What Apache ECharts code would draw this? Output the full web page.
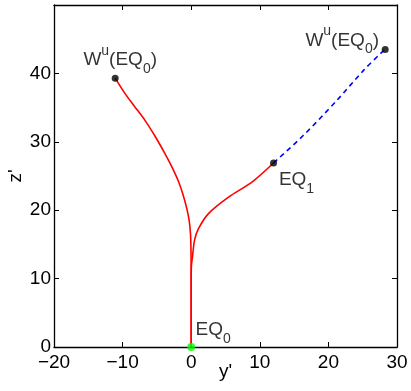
<!DOCTYPE html>
<html><head><meta charset="utf-8">
<script src="https://cdn.jsdelivr.net/npm/echarts@6/dist/echarts.min.js"></script>
<style>html,body{margin:0;padding:0;background:#fff}#c{width:411px;height:391px}</style>
</head><body><div id="c"></div>
<script>
const xTicks = [-20, -10, 0, 10, 20, 30];
const yTicks = [0, 10, 20, 30, 40];
const leftBranch = [[0,0],[0,10],[-0.03,14],[-0.1,16.5],[-0.3,18.5],[-0.63,20.2],[-1.2,22.3],[-1.85,24.2],[-2.8,26.3],[-3.79,28.2],[-5.2,30.7],[-6.71,33.1],[-8.2,35.1],[-9.62,37.0],[-11.08,39.3]];
const rightBranch = [[0,0],[0,10.5],[0.04,12],[0.19,13.2],[0.48,15.6],[1.06,17.3],[2.52,19.5],[5.44,21.9],[8.85,24.1],[12.0,26.9]];
const dashedBranch = [[12.0,26.9],[16.37,30.95],[21.24,36.06],[25.12,40.44],[27.8,43.1],[28.28,43.5]];
const blackDots = [[-11.08,39.3],[12.0,26.9],[28.28,43.5]];
const greenDot = [[0,0]];
const dotLabels = ['wu', 'eq1', 'wu'];

const chart = echarts.init(document.getElementById('c'));
const F = 'Liberation Sans, Arial, Helvetica, sans-serif';
const FS = 19;
const rich = {
  a: {fontSize: FS, fontFamily: F, color: '#000', lineHeight: 32, verticalAlign: 'middle'},
  sup: {fontSize: 14, fontFamily: F, color: '#000', lineHeight: 14, verticalAlign: 'top'},
  sub: {fontSize: 14, fontFamily: F, color: '#000', lineHeight: 14, verticalAlign: 'bottom'}
};
function labelText(k){
  if (k === 'wu') return '{a|W}{sup|u}{a|(EQ}{sub|0}{a|)}';
  if (k === 'eq1') return '{a|EQ}{sub|1}';
  return '{a|EQ}{sub|0}';
}
const minus = v => String(v).replace('-', '\u2212');
const axLine = {show: true, onZero: false, lineStyle: {color: '#000', width: 1.3}};
const tick = {show: true, inside: true, length: 5, lineStyle: {color: '#000'}};
const lbl = (dx, dy) => ({show: true, position: 'inside', align: 'center', verticalAlign: 'middle', offset: [dx, dy]});
chart.setOption({
  animation: false,
  grid: {left: 54, right: 14, top: 5, bottom: 44, outerBoundsMode: 'none', containLabel: false},
  xAxis: [
    {type: 'value', min: xTicks[0], max: xTicks[xTicks.length-1], interval: 10, name: "y'", nameLocation: 'middle', nameGap: 15, nameMoveOverlap: false,
     nameTextStyle: {fontSize: FS, fontFamily: F, color: '#000', verticalAlign: 'top'},
     axisLine: axLine, axisTick: tick,
     axisLabel: {fontSize: FS, fontFamily: F, color: '#000', margin: 6, formatter: minus}, splitLine: {show: false}},
    {type: 'value', position: 'top', min: xTicks[0], max: xTicks[xTicks.length-1], interval: 10,
     axisLine: axLine, axisTick: tick, axisLabel: {show: false}, splitLine: {show: false}}
  ],
  yAxis: [
    {type: 'value', min: 0, max: 50, interval: 10, name: "z'", nameLocation: 'middle', nameGap: 29, nameMoveOverlap: false,
     nameTextStyle: {fontSize: FS, fontFamily: F, color: '#000'},
     axisLine: axLine, axisTick: tick,
     axisLabel: {fontSize: FS, fontFamily: F, color: '#000', margin: 3, showMaxLabel: false, formatter: v => yTicks.includes(v) ? minus(v) : ''}, splitLine: {show: false}},
    {type: 'value', position: 'right', min: 0, max: 50, interval: 10,
     axisLine: axLine, axisTick: tick, axisLabel: {show: false}, splitLine: {show: false}}
  ],
  series: [
    {type: 'line', data: leftBranch, smooth: 0.3, showSymbol: false, lineStyle: {color: '#ff0000', width: 1.6}},
    {type: 'line', data: rightBranch, smooth: 0.3, showSymbol: false, lineStyle: {color: '#ff0000', width: 1.6}},
    {type: 'line', data: dashedBranch, smooth: 0.3, showSymbol: false, lineStyle: {color: '#0000ff', width: 1.6, type: [5,4]}},
    {type: 'scatter', symbolSize: 7, itemStyle: {color: '#000'}, z: 5,
     data: blackDots.map((p, i) => ({value: p, name: dotLabels[i],
       label: i === 0 ? lbl(5, -18) : i === 1 ? lbl(23, 17) : lbl(-43, -9)})),
     label: {show: true, color: '#000', formatter: p => labelText(p.name), rich: rich}},
    {type: 'scatter', symbolSize: 8, itemStyle: {color: '#00ff00'}, z: 5,
     data: greenDot.map(p => ({value: p, name: 'eq0', label: lbl(22, -17)})),
     label: {show: true, color: '#000', formatter: p => labelText(p.name), rich: rich}}
  ]
});
</script></body></html>
